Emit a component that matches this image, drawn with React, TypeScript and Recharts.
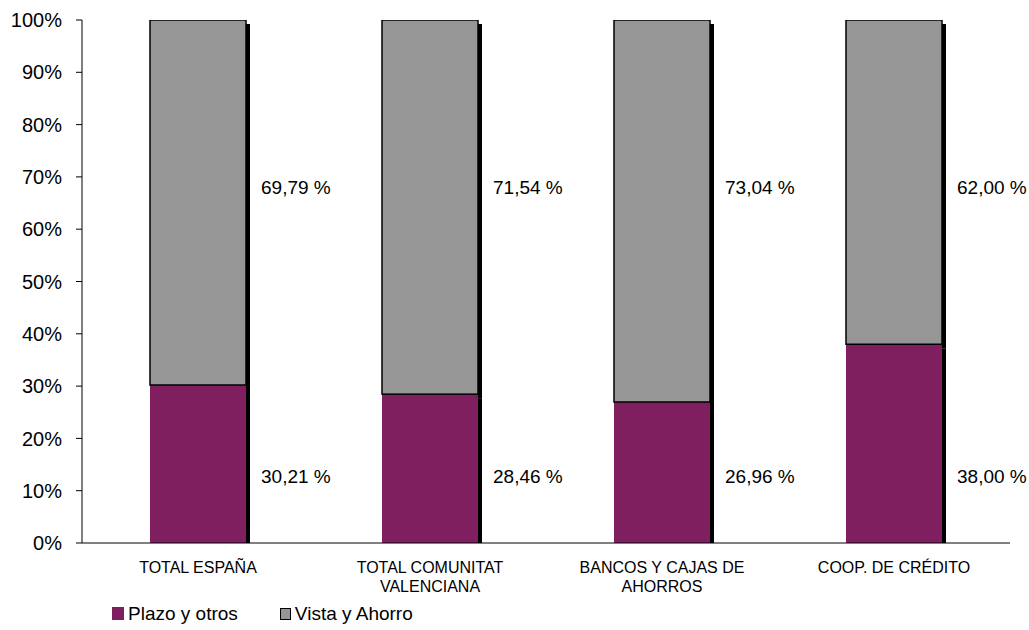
import React from 'react';
import { BarChart, Bar, XAxis, YAxis, Legend, LabelList } from 'recharts';

// ─── Datos ────────────────────────────────────────────────────────────────────

const categories = [
  'TOTAL ESPAÑA',
  'TOTAL COMUNITAT\nVALENCIANA',
  'BANCOS Y CAJAS DE\nAHORROS',
  'COOP. DE CRÉDITO',
];
const plazoOtros = [30.21, 28.46, 26.96, 38.0];
const vistaAhorro = [69.79, 71.54, 73.04, 62.0];
const yTicks = [0, 10, 20, 30, 40, 50, 60, 70, 80, 90, 100];
const edgeTicks = [0, 1, 2, 3, 4];

const PURPLE = '#7F1F5F';
const GREY = '#969696';

const chartData = categories.map((name, i) => ({
  name,
  plazo: plazoOtros[i],
  vista: vistaAhorro[i],
}));

// ─── Helpers ──────────────────────────────────────────────────────────────────

const fmtPct = (v: number) => `${v.toFixed(2).replace('.', ',')} %`;

// Barra con sombra negra a la derecha (estilo Excel)
function ShadowBar(props: any) {
  const { x, y, width, height, fill, dataKey } = props;
  const isTop = dataKey === 'vista';
  return (
    <g>
      <rect x={x + width} y={y + 4} width={4} height={isTop ? height : height - 1} fill="#000" />
      {isTop ? (
        <rect x={x} y={y} width={width} height={height} fill={fill} stroke="#000" strokeWidth={1.5} />
      ) : (
        <rect x={x} y={y} width={width} height={height} fill={fill} />
      )}
    </g>
  );
}

function makeLabel(pos: 'top' | 'bottom') {
  return (props: any) => {
    const { x, y, width, height, value } = props;
    const ty = pos === 'top' ? y + 167 : y + height - 67;
    return (
      <text x={x + width + 15} y={ty} dy="0.35em" fontSize={19} fill="#000" textAnchor="start">
        {fmtPct(Number(value))}
      </text>
    );
  };
}

function CategoryTick({ x, y, payload }: any) {
  const lines = String(payload.value).split('\n');
  return (
    <text x={x} y={y} textAnchor="middle" fontSize={16} fill="#000">
      {lines.map((l, i) => (
        <tspan key={i} x={x} dy={i === 0 ? 16 : 19}>
          {l}
        </tspan>
      ))}
    </text>
  );
}

function LegendContent() {
  const item = (color: string, label: string, border: boolean) => (
    <span style={{ display: 'inline-flex', alignItems: 'center', marginRight: 42 }}>
      <span
        style={{
          width: border ? 9 : 12,
          height: border ? 10 : 13,
          background: color,
          border: border ? '1.5px solid #000' : 'none',
          display: 'inline-block',
          marginRight: 4,
        }}
      />
      <span style={{ fontSize: 19, color: '#000' }}>{label}</span>
    </span>
  );
  return (
    <div style={{ height: 33, paddingLeft: 112, textAlign: 'left', display: 'flex', alignItems: 'center' }}>
      {item(PURPLE, 'Plazo y otros', false)}
      {item(GREY, 'Vista y Ahorro', true)}
    </div>
  );
}

// ─── Componente ───────────────────────────────────────────────────────────────

export default function App() {
  return (
    <div
      style={{
        position: 'absolute',
        left: 0,
        top: 0,
        width: 1029,
        height: 630,
        background: '#fff',
        fontFamily: '"Liberation Sans", Arial, sans-serif',
      }}
    >
      <BarChart
        width={1029}
        height={630}
        data={chartData}
        margin={{ top: 20, right: 19, left: 0, bottom: 0 }}
      >
        {/* Eje con marcas entre categorías */}
        <XAxis
          xAxisId="a_edge"
          type="number"
          domain={[0, 4]}
          ticks={edgeTicks}
          allowDataOverflow
          tick={false}
          tickSize={6}
          height={6}
          axisLine={{ stroke: '#000' }}
          tickLine={{ stroke: '#000' }}
        />
        {/* Eje de categorías (solo etiquetas) */}
        <XAxis
          xAxisId="b_cat"
          dataKey="name"
          axisLine={false}
          tickLine={false}
          tick={<CategoryTick />}
          height={48}
          interval={0}
        />
        <YAxis
          width={82}
          domain={[0, 100]}
          ticks={yTicks}
          tickFormatter={(v) => `${v}%`}
          tick={{ fontSize: 20, fill: '#000' }}
          tickSize={6}
          tickMargin={14}
          axisLine={{ stroke: '#000' }}
          tickLine={{ stroke: '#000' }}
          allowDataOverflow
        />
        <Legend verticalAlign="bottom" align="left" content={<LegendContent />} />

        <Bar
          xAxisId="b_cat"
          dataKey="plazo"
          name="Plazo y otros"
          stackId="a"
          fill={PURPLE}
          barSize={96}
          shape={<ShadowBar />}
          isAnimationActive={false}
        >
          <LabelList dataKey="plazo" content={makeLabel('bottom')} />
        </Bar>
        <Bar
          xAxisId="b_cat"
          dataKey="vista"
          name="Vista y Ahorro"
          stackId="a"
          fill={GREY}
          barSize={96}
          shape={<ShadowBar />}
          isAnimationActive={false}
        >
          <LabelList dataKey="vista" content={makeLabel('top')} />
        </Bar>
      </BarChart>
    </div>
  );
}
